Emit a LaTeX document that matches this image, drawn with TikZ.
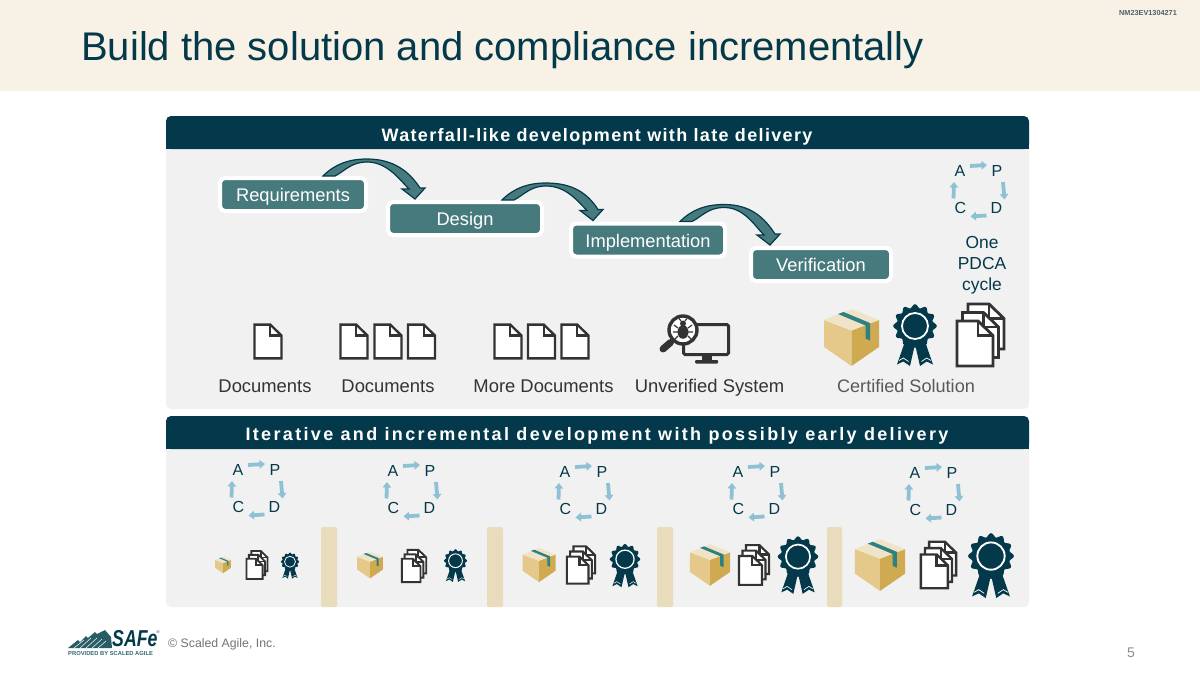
\documentclass[tikz,border=0pt]{standalone}
\usepackage{fontspec}
\usepackage{graphicx}
\setmainfont{Liberation Sans}
\newfontfamily\spacedA[LetterSpace=7.4]{Liberation Sans}
\newfontfamily\spacedB[LetterSpace=13]{Liberation Sans}
\usetikzlibrary{arrows.meta,calc}
\definecolor{navy}{HTML}{03394A}
\definecolor{teal1}{HTML}{467A7D}
\definecolor{band}{HTML}{F8F1E6}
\definecolor{panel}{HTML}{F1F1F1}
\definecolor{tan1}{HTML}{E9DCBC}
\definecolor{cyc}{HTML}{8FC1D4}
\definecolor{ink}{HTML}{333333}
\definecolor{boxL}{HTML}{E4C98A}
\definecolor{boxR}{HTML}{D0AA50}
\definecolor{boxT}{HTML}{F0E4C8}
\definecolor{boxTape}{HTML}{2F8082}
\tikzset{
  x=1pt,y=-1pt,
  stepbox/.style={draw=white,line width=4pt,fill=teal1,rounded corners=5pt,text=white,font=\fontsize{18.3}{20}\selectfont,minimum height=33pt,inner sep=0pt,text height=14pt,text depth=0pt},
  flowarrow/.style={fill=teal1,draw=navy,line width=1.2pt,line join=miter},
  cycarrow/.style={draw=cyc,line width=3.8pt,-{Triangle[width=8.5pt,length=5.5pt]}},
  cyctext/.style={text=navy,font=\fontsize{16}{18}\selectfont,inner sep=0pt},
  lbl/.style={text=ink,font=\fontsize{18.4}{20}\selectfont,inner sep=0pt,anchor=base},
  headA/.style={text=white,font=\spacedA\bfseries\fontsize{18}{20}\selectfont,inner sep=0pt,anchor=base},
  headB/.style={text=white,font=\spacedB\bfseries\fontsize{18}{20}\selectfont,inner sep=0pt,anchor=base},
  sep/.style={fill=tan1,rounded corners=2pt},
}
\newcommand{\flowarr}[5]{%
  \coordinate (S) at ($(#1.north west)+(#2,0)$);
  \coordinate (T) at ($(#3.north west)+(#4,-1)$);
  \coordinate (M) at ($(S)+(44,-17)$);
  \path[flowarrow] (S) .. controls ($(S)+(12,-12)$) and ($(M)+(-18,0)$) .. (M)
    .. controls ($(M)+(26,0)$) and ($(T)+(-6,-28)$) .. ($(T)+(5,-11)$)
    -- ($(T)+(10,-11)$) -- (T) -- ($(T)+(-13,-10)$) -- ($(T)+(-6,-10)$)
    .. controls ($(T)+(-16,-20)$) and ($(M)+(20,3)$) .. ($(M)+(0,3)$)
    .. controls ($(M)+(-16,3)$) and ($(S)+(22,-5)$) .. ($(S)+(12,0)$) -- cycle;
}
\newcommand{\pdca}[3]{%
  \node[cyctext] (#1A) at (#2,#3) {A};
  \node[cyctext] (#1P) at (#2+37,#3) {P};
  \node[cyctext] (#1C) at (#2+0.5,#3+36.5) {C};
  \node[cyctext] (#1D) at (#2+36.5,#3+36.5) {D};
  \draw[cycarrow] ($(#1A)+(10,-5)$) -- ($(#1P)+(-10,-6)$);
  \draw[cycarrow] ($(#1P)+(6,11)$) -- ($(#1D)+(8,-8)$);
  \draw[cycarrow] ($(#1D)+(-10,8)$) -- ($(#1C)+(10,9)$);
  \draw[cycarrow] ($(#1C)+(-7,-9)$) -- ($(#1A)+(-6,11)$);
}
\newcommand{\docshape}[3]{% cx cy scale
  \begin{scope}[shift={(#1,#2)},scale=#3]
    \draw[draw=ink,fill=white,line width=1pt+#3*1.8pt,line join=miter]
      (-18,-22.5)--(3,-22.5)--(18,-8)--(18,22.5)--(-18,22.5)--cycle;
    \draw[draw=ink,line width=1pt+#3*1.8pt] (3,-22.5)--(3,-8)--(18,-8);
  \end{scope}}
\newcommand{\docstack}[3]{%
  \begin{scope}[shift={(#1,#2)}]
  \docshape{5.5*#3}{-8.5*#3}{#3}
  \docshape{0}{0}{#3}
  \docshape{-5.5*#3}{8.5*#3}{#3}
  \end{scope}}
\newcommand{\boxicon}[3]{%
  \begin{scope}[shift={(#1,#2)},scale=#3]
    \fill[boxL] (-27.5,-17.5)--(0,-7)--(0,28.5)--(-27.5,9.5)--cycle;
    \fill[boxR] (27.5,-17.5)--(0,-7)--(0,28.5)--(27.5,9.5)--cycle;
    \fill[boxT] (0,-28.5)--(27.5,-17.5)--(0,-7)--(-27.5,-17.5)--cycle;
    \fill[boxTape] (-13.5,-23.5)--(-8,-25.5)--(18.5,-14.5)--(18.5,3)--(14,1)--(14,-12)--cycle;
  \end{scope}}
\newcommand{\badge}[3]{%
  \begin{scope}[shift={(#1,#2)},scale=#3]
    \fill[navy] (-9.5,5)--(0,9)--(-5,31)--(-11.7,26.5)--(-18,29.5)--cycle;
    \fill[navy] (9.5,5)--(0,9)--(5,31)--(11.7,26.5)--(18,29.5)--cycle;
    \draw[white,line width=#3*0.7pt] (-16,25.5)--(-11.7,23)--(-6.5,26.5) (16,25.5)--(11.7,23)--(6.5,26.5);
    \fill[navy,shift={(0,-9)}] plot[domain=0:360,samples=97] ({(20+1.8*cos(12*\x))*cos(\x)},{(20+1.8*cos(12*\x))*sin(\x)}) -- cycle;
    \draw[white,line width=#3*1.8pt] (0,-9) circle[radius=13];
  \end{scope}}
\begin{document}
\begin{tikzpicture}
\useasboundingbox (0,0) rectangle (1200,675);
\fill[white] (0,0) rectangle (1200,675);
\fill[band] (0,0) rectangle (1200,91);
\node[text=navy,font=\fontsize{40}{46}\selectfont,anchor=west,inner sep=0pt] (title) at (81,50) {Build the solution and compliance incrementally};
\node[text=black!50!navy!70,font=\bfseries\fontsize{7.3}{8}\selectfont,inner sep=0pt] (code) at (1148,12.5) {NM23EV1304271};
% panels
\fill[panel,rounded corners=5pt] (166,125) rectangle (1029,409);
\fill[navy,rounded corners=5pt] (166,116) rectangle (1029,149);
\fill[navy] (166,135) rectangle (1029,149);
\node[headA] (h1) at (597,141) {Waterfall-like development with late delivery};
\fill[panel,rounded corners=5pt] (166,425) rectangle (1029,607);
\fill[navy,rounded corners=5pt] (166,416) rectangle (1029,449);
\fill[navy] (166,435) rectangle (1029,449);
\node[headB] (h2) at (597,440.5) {Iterative and incremental development with possibly early delivery};
% steps
\node[stepbox,minimum width=146pt] (req) at (293,194.5) {Requirements};
\node[stepbox,minimum width=154pt] (des) at (465,218.5) {Design};
\node[stepbox,minimum width=154pt] (imp) at (648,240) {Implementation};
\node[stepbox,minimum width=140pt] (ver) at (821,264.5) {Verification};
\flowarr{req}{105}{des}{29}{}
\flowarr{des}{116}{imp}{24}{}
\flowarr{imp}{111}{ver}{21}{}
% top-right cycle
\pdca{a}{960}{171}
\node[text=navy,font=\fontsize{17.4}{21}\selectfont,align=center,inner sep=0pt] (one) at (982,265) {One\\[0.6pt]PDCA\\[-0.6pt]cycle};
% document icons
\docshape{268}{341.5}{0.75}
\docshape{354}{341.5}{0.75}
\docshape{388}{341.5}{0.75}
\docshape{421.5}{341.5}{0.75}
\docshape{508}{341.5}{0.75}
\docshape{541.5}{341.5}{0.75}
\docshape{575}{341.5}{0.75}
% unverified system
\draw[ink,line width=3pt,rounded corners=1.5pt] (683.5,324.5) rectangle (728.5,354.5);
\fill[ink] (702,354) rectangle (712,361);
\fill[ink,rounded corners=1pt] (695,360) rectangle (718,363.5);
\draw[ink,line width=7pt,line cap=round] (670.5,342.5) -- (663,349);
\draw[ink,line width=3pt] (676,338) -- (670,343);
\draw[ink,fill=white,line width=3.4pt] (683,330) circle[radius=14];
\fill[ink] (683,332) ellipse[x radius=5.5,y radius=6.8];
\fill[ink] (683,323.5) circle[radius=3];
\draw[ink,line width=1.2pt]
  (678,328)--(674,325) (678,332)--(673,332) (678,336)--(674,340)
  (688,328)--(692,325) (688,332)--(693,332) (688,336)--(692,340)
  (681,321)--(679,318.5) (685,321)--(687,318.5);
% certified solution
\boxicon{851.5}{337.5}{1}
\badge{915}{335}{1}
\docstack{980.5}{335}{1}
% labels
\node[lbl] (l1) at (265,392) {Documents};
\node[lbl] (l2) at (388,392) {Documents};
\node[lbl] (l3) at (543.5,392) {More Documents};
\node[lbl] (l4) at (709.5,392) {Unverified System};
\node[lbl,text=black!65,font=\fontsize{18.1}{20}\selectfont] (l5) at (906,392) {Certified Solution};
% bottom cycles
\pdca{b}{238}{470}
\pdca{c}{393}{471}
\pdca{d}{565}{472}
\pdca{e}{738}{472}
\pdca{f}{915}{473}
% separators
\path[sep] (321,527) rectangle (337,607);
\path[sep] (487,527) rectangle (503,607);
\path[sep] (657,527) rectangle (673,607);
\path[sep] (827,527) rectangle (842,607);
% increments
\boxicon{223}{565}{0.29}\docstack{257}{565}{0.45}\badge{290}{565.5}{0.42}
\boxicon{370}{565}{0.47}\docstack{414}{566}{0.52}\badge{455.5}{565.5}{0.53}
\boxicon{539}{565}{0.6}\docstack{581}{565}{0.6}\badge{625}{565.5}{0.7}
\boxicon{710}{565}{0.73}\docstack{754}{565}{0.64}\badge{798}{565}{0.93}
\boxicon{880}{565}{0.91}\docstack{938.5}{565}{0.75}\badge{991}{565.5}{1.05}
% footer
\fill[teal1!55!navy] (68,648)--(78,640)--(80,642)--(86,636)--(88,638)--(95,632)--(97,634)--(105,630)--(111,637)--(112,648)--cycle;
\draw[white,line width=.5pt] (74,648)--(84,640) (80,648)--(91,638) (86,648)--(97,638) (92,648)--(102,639) (98,648)--(106,641);
\node[text=navy,font=\bfseries\itshape\fontsize{23}{24}\selectfont,anchor=west,inner sep=0pt] (safe) at (112,639) {\scalebox{0.77}[1]{SAFe}};
\node[text=navy,font=\fontsize{4}{5}\selectfont,inner sep=0pt] (reg) at (158,632) {®};
\node[text=teal1!70!navy,font=\bfseries\fontsize{5.8}{7}\selectfont,anchor=west,inner sep=0pt] (prov) at (68,653.5) {PROVIDED BY SCALED AGILE};
\node[text=black!55,font=\fontsize{12.3}{14}\selectfont,anchor=west,inner sep=0pt] (copy) at (168,644) {© Scaled Agile, Inc.};
\node[text=black!45,font=\fontsize{14}{16}\selectfont,inner sep=0pt] (page) at (1131,653) {5};
\end{tikzpicture}
\end{document}
